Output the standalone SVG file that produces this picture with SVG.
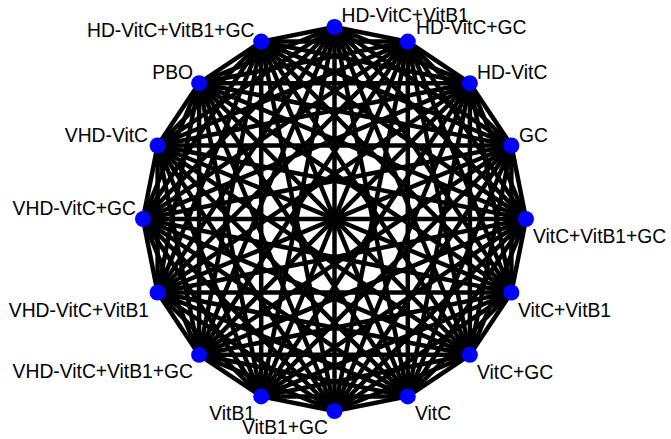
<svg xmlns="http://www.w3.org/2000/svg" width="671" height="439" viewBox="0 0 671 439">
<style>
.e line{stroke:#000;stroke-width:4.5;stroke-linecap:round}
.n circle{fill:#0000ff}
.n text{font-family:"Liberation Sans",Arial,sans-serif;font-size:19.3px;fill:#000}
.r{text-anchor:end}
</style>
<rect width="671" height="439" fill="#fff"/>
<g id="connectors" class="e">
<line x1="334.5" y1="27" x2="407.8" y2="41.6"/>
<line x1="334.5" y1="27" x2="469.9" y2="83.2"/>
<line x1="334.5" y1="27" x2="511.4" y2="145.5"/>
<line x1="334.5" y1="27" x2="526" y2="219"/>
<line x1="334.5" y1="27" x2="511.4" y2="292.5"/>
<line x1="334.5" y1="27" x2="469.9" y2="354.8"/>
<line x1="334.5" y1="27" x2="407.8" y2="396.4"/>
<line x1="334.5" y1="27" x2="334.5" y2="411"/>
<line x1="334.5" y1="27" x2="261.2" y2="396.4"/>
<line x1="334.5" y1="27" x2="199.1" y2="354.8"/>
<line x1="334.5" y1="27" x2="157.6" y2="292.5"/>
<line x1="334.5" y1="27" x2="143" y2="219"/>
<line x1="334.5" y1="27" x2="157.6" y2="145.5"/>
<line x1="334.5" y1="27" x2="199.1" y2="83.2"/>
<line x1="334.5" y1="27" x2="261.2" y2="41.6"/>
<line x1="407.8" y1="41.6" x2="469.9" y2="83.2"/>
<line x1="407.8" y1="41.6" x2="511.4" y2="145.5"/>
<line x1="407.8" y1="41.6" x2="526" y2="219"/>
<line x1="407.8" y1="41.6" x2="511.4" y2="292.5"/>
<line x1="407.8" y1="41.6" x2="469.9" y2="354.8"/>
<line x1="407.8" y1="41.6" x2="407.8" y2="396.4"/>
<line x1="407.8" y1="41.6" x2="334.5" y2="411"/>
<line x1="407.8" y1="41.6" x2="261.2" y2="396.4"/>
<line x1="407.8" y1="41.6" x2="199.1" y2="354.8"/>
<line x1="407.8" y1="41.6" x2="157.6" y2="292.5"/>
<line x1="407.8" y1="41.6" x2="143" y2="219"/>
<line x1="407.8" y1="41.6" x2="157.6" y2="145.5"/>
<line x1="407.8" y1="41.6" x2="199.1" y2="83.2"/>
<line x1="407.8" y1="41.6" x2="261.2" y2="41.6"/>
<line x1="469.9" y1="83.2" x2="511.4" y2="145.5"/>
<line x1="469.9" y1="83.2" x2="526" y2="219"/>
<line x1="469.9" y1="83.2" x2="511.4" y2="292.5"/>
<line x1="469.9" y1="83.2" x2="469.9" y2="354.8"/>
<line x1="469.9" y1="83.2" x2="407.8" y2="396.4"/>
<line x1="469.9" y1="83.2" x2="334.5" y2="411"/>
<line x1="469.9" y1="83.2" x2="261.2" y2="396.4"/>
<line x1="469.9" y1="83.2" x2="199.1" y2="354.8"/>
<line x1="469.9" y1="83.2" x2="157.6" y2="292.5"/>
<line x1="469.9" y1="83.2" x2="143" y2="219"/>
<line x1="469.9" y1="83.2" x2="157.6" y2="145.5"/>
<line x1="469.9" y1="83.2" x2="199.1" y2="83.2"/>
<line x1="469.9" y1="83.2" x2="261.2" y2="41.6"/>
<line x1="511.4" y1="145.5" x2="526" y2="219"/>
<line x1="511.4" y1="145.5" x2="511.4" y2="292.5"/>
<line x1="511.4" y1="145.5" x2="469.9" y2="354.8"/>
<line x1="511.4" y1="145.5" x2="407.8" y2="396.4"/>
<line x1="511.4" y1="145.5" x2="334.5" y2="411"/>
<line x1="511.4" y1="145.5" x2="261.2" y2="396.4"/>
<line x1="511.4" y1="145.5" x2="199.1" y2="354.8"/>
<line x1="511.4" y1="145.5" x2="157.6" y2="292.5"/>
<line x1="511.4" y1="145.5" x2="143" y2="219"/>
<line x1="511.4" y1="145.5" x2="157.6" y2="145.5"/>
<line x1="511.4" y1="145.5" x2="199.1" y2="83.2"/>
<line x1="511.4" y1="145.5" x2="261.2" y2="41.6"/>
<line x1="526" y1="219" x2="511.4" y2="292.5"/>
<line x1="526" y1="219" x2="469.9" y2="354.8"/>
<line x1="526" y1="219" x2="407.8" y2="396.4"/>
<line x1="526" y1="219" x2="334.5" y2="411"/>
<line x1="526" y1="219" x2="261.2" y2="396.4"/>
<line x1="526" y1="219" x2="199.1" y2="354.8"/>
<line x1="526" y1="219" x2="157.6" y2="292.5"/>
<line x1="526" y1="219" x2="143" y2="219"/>
<line x1="526" y1="219" x2="157.6" y2="145.5"/>
<line x1="526" y1="219" x2="199.1" y2="83.2"/>
<line x1="526" y1="219" x2="261.2" y2="41.6"/>
<line x1="511.4" y1="292.5" x2="469.9" y2="354.8"/>
<line x1="511.4" y1="292.5" x2="407.8" y2="396.4"/>
<line x1="511.4" y1="292.5" x2="334.5" y2="411"/>
<line x1="511.4" y1="292.5" x2="261.2" y2="396.4"/>
<line x1="511.4" y1="292.5" x2="199.1" y2="354.8"/>
<line x1="511.4" y1="292.5" x2="157.6" y2="292.5"/>
<line x1="511.4" y1="292.5" x2="143" y2="219"/>
<line x1="511.4" y1="292.5" x2="157.6" y2="145.5"/>
<line x1="511.4" y1="292.5" x2="199.1" y2="83.2"/>
<line x1="511.4" y1="292.5" x2="261.2" y2="41.6"/>
<line x1="469.9" y1="354.8" x2="407.8" y2="396.4"/>
<line x1="469.9" y1="354.8" x2="334.5" y2="411"/>
<line x1="469.9" y1="354.8" x2="261.2" y2="396.4"/>
<line x1="469.9" y1="354.8" x2="199.1" y2="354.8"/>
<line x1="469.9" y1="354.8" x2="157.6" y2="292.5"/>
<line x1="469.9" y1="354.8" x2="143" y2="219"/>
<line x1="469.9" y1="354.8" x2="157.6" y2="145.5"/>
<line x1="469.9" y1="354.8" x2="199.1" y2="83.2"/>
<line x1="469.9" y1="354.8" x2="261.2" y2="41.6"/>
<line x1="407.8" y1="396.4" x2="334.5" y2="411"/>
<line x1="407.8" y1="396.4" x2="261.2" y2="396.4"/>
<line x1="407.8" y1="396.4" x2="199.1" y2="354.8"/>
<line x1="407.8" y1="396.4" x2="157.6" y2="292.5"/>
<line x1="407.8" y1="396.4" x2="143" y2="219"/>
<line x1="407.8" y1="396.4" x2="157.6" y2="145.5"/>
<line x1="407.8" y1="396.4" x2="199.1" y2="83.2"/>
<line x1="407.8" y1="396.4" x2="261.2" y2="41.6"/>
<line x1="334.5" y1="411" x2="261.2" y2="396.4"/>
<line x1="334.5" y1="411" x2="199.1" y2="354.8"/>
<line x1="334.5" y1="411" x2="157.6" y2="292.5"/>
<line x1="334.5" y1="411" x2="143" y2="219"/>
<line x1="334.5" y1="411" x2="157.6" y2="145.5"/>
<line x1="334.5" y1="411" x2="199.1" y2="83.2"/>
<line x1="334.5" y1="411" x2="261.2" y2="41.6"/>
<line x1="261.2" y1="396.4" x2="199.1" y2="354.8"/>
<line x1="261.2" y1="396.4" x2="157.6" y2="292.5"/>
<line x1="261.2" y1="396.4" x2="143" y2="219"/>
<line x1="261.2" y1="396.4" x2="157.6" y2="145.5"/>
<line x1="261.2" y1="396.4" x2="199.1" y2="83.2"/>
<line x1="261.2" y1="396.4" x2="261.2" y2="41.6"/>
<line x1="199.1" y1="354.8" x2="157.6" y2="292.5"/>
<line x1="199.1" y1="354.8" x2="143" y2="219"/>
<line x1="199.1" y1="354.8" x2="157.6" y2="145.5"/>
<line x1="199.1" y1="354.8" x2="199.1" y2="83.2"/>
<line x1="199.1" y1="354.8" x2="261.2" y2="41.6"/>
<line x1="157.6" y1="292.5" x2="143" y2="219"/>
<line x1="157.6" y1="292.5" x2="157.6" y2="145.5"/>
<line x1="157.6" y1="292.5" x2="199.1" y2="83.2"/>
<line x1="157.6" y1="292.5" x2="261.2" y2="41.6"/>
<line x1="143" y1="219" x2="157.6" y2="145.5"/>
<line x1="143" y1="219" x2="199.1" y2="83.2"/>
<line x1="143" y1="219" x2="261.2" y2="41.6"/>
<line x1="157.6" y1="145.5" x2="199.1" y2="83.2"/>
<line x1="157.6" y1="145.5" x2="261.2" y2="41.6"/>
<line x1="199.1" y1="83.2" x2="261.2" y2="41.6"/>
</g>
<g id="n0" class="n"><text x="341.5" y="21.5">HD-VitC+VitB1</text><circle cx="334.5" cy="27" r="8"/></g>
<g id="n1" class="n"><text x="416" y="33.5">HD-VitC+GC</text><circle cx="407.8" cy="41.6" r="8"/></g>
<g id="n2" class="n"><text x="477" y="79">HD-VitC</text><circle cx="469.9" cy="83.2" r="8"/></g>
<g id="n3" class="n"><text x="519" y="142">GC</text><circle cx="511.4" cy="145.5" r="8"/></g>
<g id="n4" class="n"><text x="533" y="243">VitC+VitB1+GC</text><circle cx="526" cy="219" r="8"/></g>
<g id="n5" class="n"><text x="518" y="317">VitC+VitB1</text><circle cx="511.4" cy="292.5" r="8"/></g>
<g id="n6" class="n"><text x="477" y="379">VitC+GC</text><circle cx="469.9" cy="354.8" r="8"/></g>
<g id="n7" class="n"><text x="415" y="420">VitC</text><circle cx="407.8" cy="396.4" r="8"/></g>
<g id="n8" class="n"><text class="r" x="328" y="433.5">VitB1+GC</text><circle cx="334.5" cy="411" r="8"/></g>
<g id="n9" class="n"><text class="r" x="255" y="420">VitB1</text><circle cx="261.2" cy="396.4" r="8"/></g>
<g id="n10" class="n"><text class="r" x="193" y="378">VHD-VitC+VitB1+GC</text><circle cx="199.1" cy="354.8" r="8"/></g>
<g id="n11" class="n"><text class="r" x="149" y="317">VHD-VitC+VitB1</text><circle cx="157.6" cy="292.5" r="8"/></g>
<g id="n12" class="n"><text class="r" x="136" y="215">VHD-VitC+GC</text><circle cx="143" cy="219" r="8"/></g>
<g id="n13" class="n"><text class="r" x="148" y="142">VHD-VitC</text><circle cx="157.6" cy="145.5" r="8"/></g>
<g id="n14" class="n"><text class="r" x="193" y="79">PBO</text><circle cx="199.1" cy="83.2" r="8"/></g>
<g id="n15" class="n"><text class="r" x="254.5" y="37">HD-VitC+VitB1+GC</text><circle cx="261.2" cy="41.6" r="8"/></g>
</svg>
